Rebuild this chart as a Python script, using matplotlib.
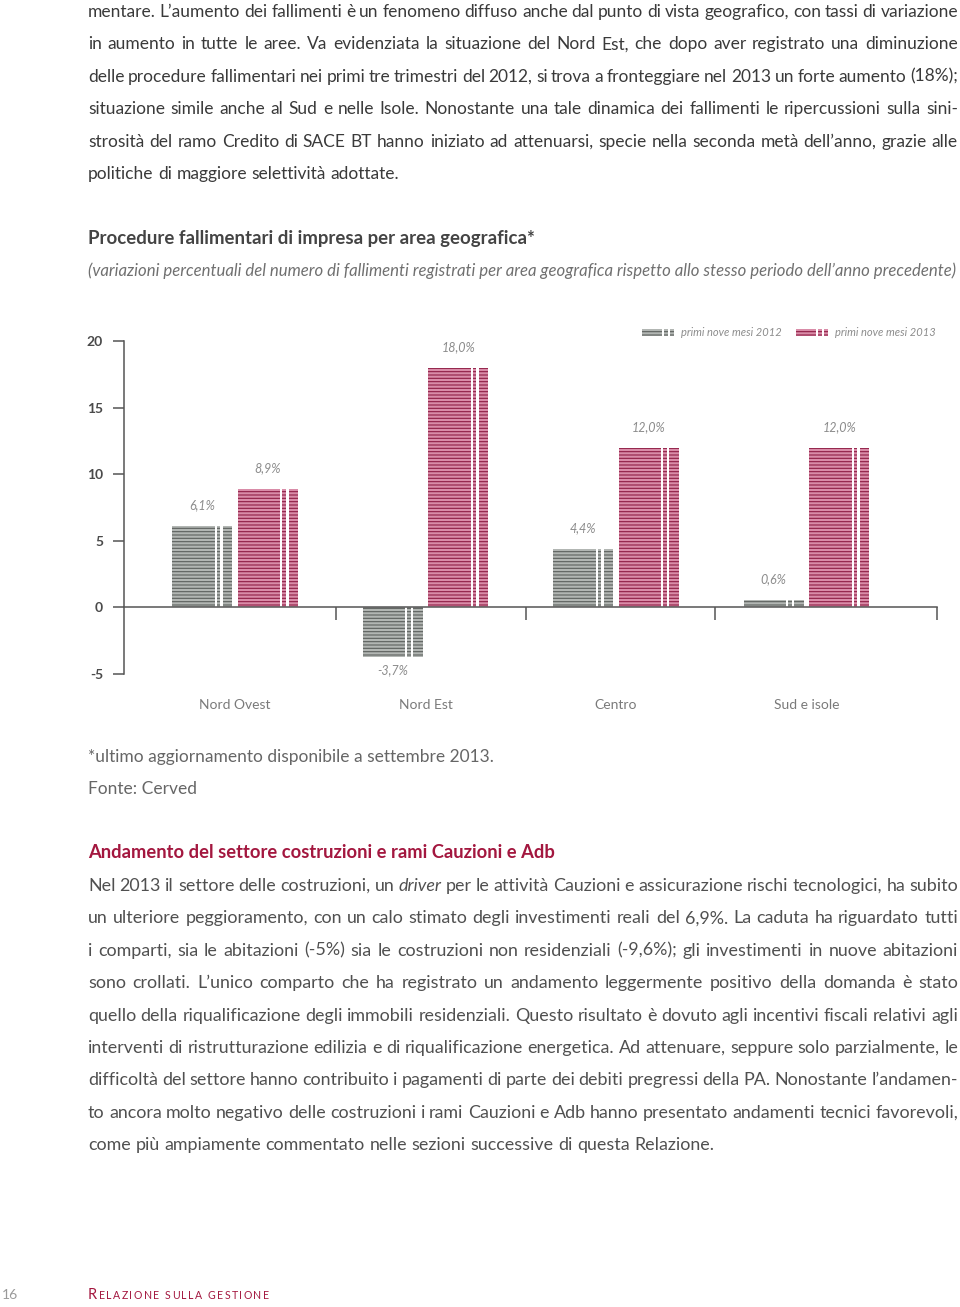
import matplotlib
matplotlib.use('Agg')
import matplotlib.pyplot as plt
import numpy as np
from matplotlib.legend_handler import HandlerBase
from matplotlib.patches import Rectangle

# chart data
regions = ['Nord Ovest', 'Nord Est', 'Centro', 'Sud e isole']
v2012 = [6.1, -3.7, 4.4, 0.6]
v2013 = [8.9, 18.0, 12.0, 12.0]
series_names = ['primi nove mesi 2012', 'primi nove mesi 2013']
yticks = [-5, 0, 5, 10, 15, 20]

# page text
para1 = [
    'mentare. L’aumento dei fallimenti è un fenomeno diffuso anche dal punto di vista geografico, con tassi di variazione',
    'in aumento in tutte le aree. Va evidenziata la situazione del Nord Est, che dopo aver registrato una diminuzione',
    'delle procedure fallimentari nei primi tre trimestri del 2012, si trova a fronteggiare nel 2013 un forte aumento (18%);',
    'situazione simile anche al Sud e nelle Isole. Nonostante una tale dinamica dei fallimenti le ripercussioni sulla sini-',
    'strosità del ramo Credito di SACE BT hanno iniziato ad attenuarsi, specie nella seconda metà dell’anno, grazie alle',
    'politiche di maggiore selettività adottate.',
]
title = 'Procedure fallimentari di impresa per area geografica*'
subtitle = ('(variazioni percentuali del numero di fallimenti registrati per area geografica '
            'rispetto allo stesso periodo dell’anno precedente)')
notes = ['*ultimo aggiornamento disponibile a settembre 2013.', 'Fonte: Cerved']
heading = 'Andamento del settore costruzioni e rami Cauzioni e Adb'
para2 = [
    'Nel 2013 il settore delle costruzioni, un _driver_ per le attività Cauzioni e assicurazione rischi tecnologici, ha subito',
    'un ulteriore peggioramento, con un calo stimato degli investimenti reali del 6,9%. La caduta ha riguardato tutti',
    'i comparti, sia le abitazioni (-5%) sia le costruzioni non residenziali (-9,6%); gli investimenti in nuove abitazioni',
    'sono crollati. L’unico comparto che ha registrato un andamento leggermente positivo della domanda è stato',
    'quello della riqualificazione degli immobili residenziali. Questo risultato è dovuto agli incentivi fiscali relativi agli',
    'interventi di ristrutturazione edilizia e di riqualificazione energetica. Ad attenuare, seppure solo parzialmente, le',
    'difficoltà del settore hanno contribuito i pagamenti di parte dei debiti pregressi della PA. Nonostante l’andamen-',
    'to ancora molto negativo delle costruzioni i rami Cauzioni e Adb hanno presentato andamenti tecnici favorevoli,',
    'come più ampiamente commentato nelle sezioni successive di questa Relazione.',
]
footer = 'Relazione sulla gestione'

W, H = 960, 1307
plt.rcParams['font.family'] = ['Lato', 'DejaVu Sans']
plt.rcParams['hatch.linewidth'] = 0.8

fig = plt.figure(figsize=(W / 100, H / 100), dpi=100)
r = fig.canvas.get_renderer()

crimson = '#a3173f'


def fx(x):
    return x / W


def fy(y):
    return 1 - y / H


def width_of(s, size, **kw):
    t = fig.text(0, 0, s, fontsize=size, **kw)
    w = t.get_window_extent(r).width
    t.remove()
    return w


def fit(lines, target, base=11, **kw):
    wmax = max(width_of(l.replace('_', ''), base, **kw) for l in lines)
    return base * target / wmax


def fit_just(lines, gap=3.5, base=11, span=870, **kw):
    # font size so the tightest line still keeps about `gap` px between words
    best = 99
    for l in lines:
        words = l.replace('_', '').split(' ')
        sw = sum(width_of(w, base, **kw) for w in words)
        best = min(best, base * (span - (len(words) - 1) * gap) / sw)
    return best


def justify(lines, y0, step, size, x0=88, x1=958, **kw):
    space = width_of('a a', size, **kw) - width_of('aa', size, **kw)
    for i, line in enumerate(lines):
        arts = []
        for w in line.split(' '):
            st = 'normal'
            if w.startswith('_'):
                w = w.strip('_')
                st = 'italic'
            arts.append(fig.text(0, 0, w, fontsize=size, style=st, va='baseline', **kw))
        ws = [a.get_window_extent(r).width for a in arts]
        if i == len(lines) - 1:
            gap = space
        else:
            gap = (x1 - x0 - sum(ws)) / (len(ws) - 1)
        x = x0
        for a, w in zip(arts, ws):
            a.set_position((fx(x), fy(y0 + i * step)))
            x += w + gap


# top paragraph
s1 = fit_just(para1[:-1], color='#3a3a3a')
justify(para1, 17, 32.4, s1, color='#3a3a3a')

# chart title
st = fit([title], 444, weight='bold')
fig.text(fx(88), fy(244), title, fontsize=st, weight='bold', color='#444444', va='baseline')
ss = fit([subtitle], 867, style='italic')
fig.text(fx(88), fy(276), subtitle, fontsize=ss, style='italic', color='#707070', va='baseline')

# chart
ax = fig.add_axes([fx(124), 1 - 674 / H, 813 / W, 332.5 / H])
x = np.arange(len(regions))
bw = 0.315
off = 0.172
gray_l, gray_d = '#b2b6b3', '#5c605d'
pink_l, pink_d = '#d98ca8', '#8e1d45'
b1 = ax.bar(x - off, v2012, bw, color=gray_l, edgecolor=gray_d, linewidth=0, hatch='-----')
b2 = ax.bar(x + off, v2013, bw, color=pink_l, edgecolor=pink_d, linewidth=0, hatch='-----')
for xs, vals in ((x - off, v2012), (x + off, v2013)):
    left = xs - bw / 2
    ax.bar(left + bw * 0.71, vals, bw * 0.03, align='edge', color='white', linewidth=0)
    ax.bar(left + bw * 0.80, vals, bw * 0.045, align='edge', color='white', linewidth=0)
    for xi, v in zip(xs, vals):
        ax.annotate(f'{v:.1f}'.replace('.', ',') + '%', (xi, v),
                    xytext=(0, 15 if v >= 0 else -10), textcoords='offset points',
                    ha='center', va='center', fontsize=9, style='italic', color='#8c8c8c')

ax.set_xlim(-0.583, 3.685)
ax.set_ylim(-5, 20)
ax.spines['top'].set_visible(False)
ax.spines['right'].set_visible(False)
ax.spines['bottom'].set_position(('data', 0))
for s in ('left', 'bottom'):
    ax.spines[s].set_color('#555555')
    ax.spines[s].set_linewidth(1.1)
ax.set_yticks(yticks)
ax.set_yticklabels([str(t) for t in yticks], fontweight='bold', color='#4a4a4a', fontsize=10)
ax.tick_params(axis='y', length=8, width=1.1, color='#555555', pad=7)
ax.set_xticks([0.53, 1.53, 2.52, 3.684])
ax.set_xticklabels([])
ax.tick_params(axis='x', length=9.5, width=1.1, color='#555555', direction='out')
for i, name in enumerate(regions):
    ax.text(i, -0.093, name, transform=ax.get_xaxis_transform(), ha='center', va='center',
            fontsize=10, color='#7a7a7a')


class Swatch(HandlerBase):
    def create_artists(self, legend, orig, xd, yd, w, h, fs, trans):
        out = []
        for a, b in [(0, 0.62), (0.68, 0.12), (0.86, 0.12)]:
            out.append(Rectangle((-xd + a * w, -yd), b * w, h, facecolor=orig.get_facecolor(),
                                 edgecolor=orig.get_edgecolor(), linewidth=0, hatch='-----',
                                 transform=trans))
        return out


ax.legend([b1[0], b2[0]], series_names, handler_map={Rectangle: Swatch()}, ncol=2,
          loc='center right', bbox_to_anchor=(0.998, 1.026), frameon=False,
          prop=dict(style='italic', size=8), labelcolor='#8c8c8c',
          handlelength=3.0, handleheight=0.7, handletextpad=0.5, columnspacing=1.3,
          borderpad=0, borderaxespad=0)

# notes
sn = fit(notes[:1], 404)
for i, t in enumerate(notes):
    fig.text(fx(88), fy(762 + i * 32.4), t, fontsize=sn, color='#666666', va='baseline')

# second section
sh = fit([heading], 464, weight='bold')
fig.text(fx(88), fy(858), heading, fontsize=sh, weight='bold', color=crimson, va='baseline')
s2 = fit_just(para2[:-1], gap=4, color='#505050')
justify(para2, 891, 32.4, s2, color='#505050')

# footer, drawn as small caps with letter spacing
fig.text(fx(2), fy(1299), '16', fontsize=10, color='#9a9a9a', va='baseline')
caps = [(c.upper(), 10.5 if c.isupper() else 7.6) for c in footer]
cw = []
for c, sz in caps:
    cw.append(width_of('I I', sz) - width_of('II', sz) if c == ' ' else width_of(c, sz))
track = (181 - sum(cw)) / (len(caps) - 1)
xx = 88
for (c, sz), w in zip(caps, cw):
    if c != ' ':
        fig.text(fx(xx), fy(1299), c, fontsize=sz, color=crimson, va='baseline')
    xx += w + track

fig.savefig('out.png', dpi=100, facecolor='white')
